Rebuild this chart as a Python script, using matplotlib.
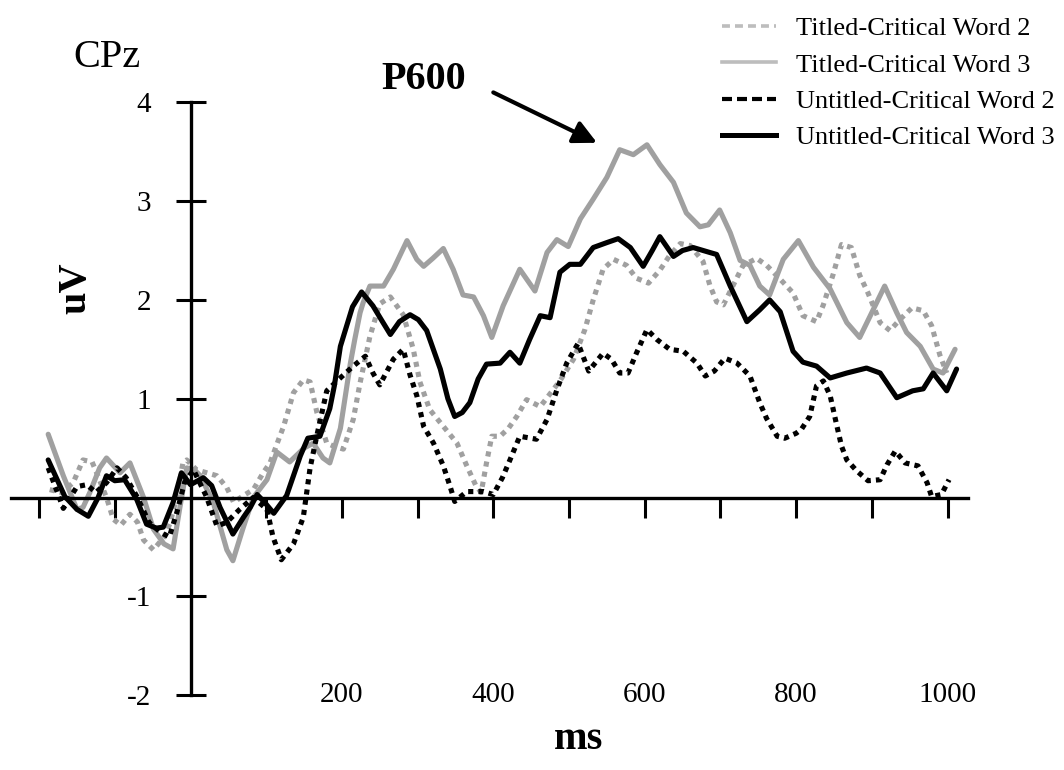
import matplotlib
matplotlib.use('Agg')
import matplotlib.pyplot as plt
from matplotlib.lines import Line2D

plt.rcParams['font.family'] = ['Liberation Serif', 'DejaVu Serif']

# ---------------- data (ms, uV) ----------------
ut3_ms = [-188, -166, -150, -135, -122, -111, -100, -87, -71, -58, -45, -36, -23, -12, 0, 17, 28, 39,
          56, 70, 79, 88, 98, 110, 127, 145, 155, 171, 184, 190, 198, 206, 214, 226, 241, 252, 264,
          276, 290, 301, 312, 330, 340, 349, 359, 369, 380, 391, 409, 422, 435, 448, 462, 475, 488,
          501, 515, 532, 550, 565, 581, 598, 610, 620, 638, 650, 664, 686, 695, 713, 735, 752, 765,
          779, 796, 809, 827, 845, 867, 893, 911, 933, 954, 968, 981, 999, 1012]
ut3_uv = [0.38, 0.01, -0.12, -0.19, 0.00, 0.22, 0.17, 0.18, -0.02, -0.27, -0.31, -0.30, -0.05, 0.25,
          0.13, 0.20, 0.12, -0.10, -0.37, -0.20, -0.10, 0.03, -0.05, -0.16, 0.02, 0.42, 0.60, 0.62,
          0.90, 1.13, 1.53, 1.73, 1.93, 2.08, 1.94, 1.80, 1.65, 1.78, 1.85, 1.80, 1.69, 1.30, 1.00,
          0.82, 0.86, 0.96, 1.20, 1.35, 1.36, 1.47, 1.36, 1.60, 1.84, 1.82, 2.28, 2.36, 2.36, 2.53,
          2.58, 2.62, 2.53, 2.34, 2.50, 2.64, 2.44, 2.50, 2.53, 2.48, 2.46, 2.14, 1.78, 1.90, 2.00,
          1.88, 1.48, 1.37, 1.33, 1.21, 1.26, 1.31, 1.26, 1.01, 1.08, 1.10, 1.26, 1.08, 1.30]

tt3_ms = [-188, -168, -159, -150, -142, -133, -120, -111, -93, -80, -62, -49, -35, -23, -14, -5, 5, 13,
          30, 48, 56, 69, 83, 101, 114, 131, 150, 162, 175, 184, 198, 211, 217, 224, 228, 237, 255,
          268, 286, 299, 308, 320, 334, 347, 360, 374, 387, 398, 413, 435, 455, 471, 484, 499, 515,
          532, 550, 567, 585, 603, 620, 638, 655, 673, 684, 699, 713, 726, 739, 752, 765, 783, 803,
          823, 845, 867, 884, 898, 917, 933, 946, 964, 981, 994, 1010]
tt3_uv = [0.64, 0.22, 0.05, -0.12, -0.10, 0.05, 0.30, 0.40, 0.25, 0.35, 0.00, -0.32, -0.47, -0.52,
          -0.10, 0.30, 0.28, 0.22, -0.05, -0.53, -0.64, -0.32, 0.00, 0.18, 0.46, 0.36, 0.50, 0.55,
          0.40, 0.35, 0.70, 1.35, 1.60, 1.87, 1.97, 2.14, 2.14, 2.31, 2.60, 2.41, 2.34, 2.42, 2.52,
          2.31, 2.05, 2.03, 1.84, 1.62, 1.94, 2.31, 2.09, 2.48, 2.61, 2.54, 2.82, 3.02, 3.24, 3.52,
          3.47, 3.57, 3.37, 3.19, 2.88, 2.74, 2.76, 2.91, 2.68, 2.40, 2.35, 2.14, 2.05, 2.41, 2.60,
          2.33, 2.11, 1.77, 1.62, 1.84, 2.14, 1.87, 1.67, 1.53, 1.30, 1.26, 1.50]

tt2_ms = [-186, -170, -155, -142, -130, -124, -111, -102, -92, -80, -70, -62, -49, -35, -27, -18, -10,
          -5, 8, 35, 48, 57, 70, 83, 96, 105, 118, 123, 136, 149, 158, 167, 180, 189, 202, 215, 224,
          237, 250, 264, 281, 294, 303, 316, 334, 352, 365, 377, 384, 391, 398, 409, 420, 431, 444,
          462, 475, 488, 506, 521, 532, 545, 559, 576, 589, 605, 620, 633, 647, 660, 677, 686, 695,
          704, 717, 730, 748, 761, 779, 796, 809, 827, 836, 849, 860, 873, 884, 895, 911, 924, 937,
          953, 968, 979, 990, 999]
tt2_uv = [0.08, 0.05, 0.15, 0.38, 0.36, 0.25, 0.00, -0.22, -0.28, -0.17, -0.25, -0.43, -0.53, -0.40,
          -0.26, 0.01, 0.35, 0.38, 0.28, 0.22, 0.10, -0.05, 0.02, 0.08, 0.25, 0.35, 0.62, 0.72, 1.06,
          1.19, 1.17, 0.86, 0.55, 0.52, 0.49, 0.79, 1.16, 1.63, 1.96, 2.03, 1.85, 1.51, 1.17, 0.89,
          0.72, 0.55, 0.32, 0.12, 0.05, 0.35, 0.62, 0.62, 0.70, 0.82, 0.99, 0.92, 1.05, 1.18, 1.40,
          1.70, 2.00, 2.31, 2.41, 2.35, 2.22, 2.17, 2.30, 2.45, 2.57, 2.55, 2.39, 2.15, 1.98, 1.95,
          2.15, 2.35, 2.42, 2.35, 2.21, 2.07, 1.84, 1.78, 1.95, 2.26, 2.56, 2.53, 2.25, 2.07, 1.77,
          1.69, 1.80, 1.92, 1.89, 1.74, 1.44, 1.26]

ut2_ms = [-188, -168, -150, -137, -125, -111, -97, -85, -70, -55, -40, -28, -18, -8, 4, 21, 35, 48, 65,
          83, 101, 109, 120, 136, 149, 158, 167, 180, 195, 215, 231, 241, 250, 268, 281, 290, 299,
          308, 321, 334, 343, 349, 365, 387, 400, 412, 422, 435, 457, 471, 484, 497, 512, 526, 545,
          556, 567, 578, 589, 603, 616, 633, 651, 669, 680, 692, 706, 722, 739, 752, 761, 775, 785,
          800, 807, 818, 827, 836, 845, 854, 860, 867, 880, 895, 911, 920, 931, 944, 961, 973, 979,
          992, 1002]
ut2_uv = [0.30, -0.11, 0.11, 0.13, 0.05, 0.15, 0.30, 0.20, 0.00, -0.25, -0.35, -0.40, -0.15, 0.15,
          0.28, 0.01, -0.29, -0.25, -0.12, 0.00, -0.12, -0.40, -0.63, -0.47, -0.20, 0.30, 0.63, 1.08,
          1.19, 1.33, 1.43, 1.26, 1.14, 1.40, 1.50, 1.24, 1.03, 0.72, 0.55, 0.32, 0.11, -0.04, 0.06,
          0.06, 0.03, 0.20, 0.38, 0.62, 0.59, 0.79, 1.09, 1.36, 1.56, 1.28, 1.46, 1.40, 1.26, 1.26,
          1.46, 1.70, 1.60, 1.50, 1.48, 1.36, 1.23, 1.28, 1.41, 1.36, 1.23, 0.96, 0.80, 0.62, 0.60,
          0.65, 0.69, 0.82, 1.13, 1.18, 1.03, 0.72, 0.52, 0.38, 0.27, 0.17, 0.18, 0.33, 0.47, 0.35,
          0.32, 0.15, 0.01, 0.03, 0.18]

labels = ['Titled-Critical Word 2', 'Titled-Critical Word 3',
          'Untitled-Critical Word 2', 'Untitled-Critical Word 3']
x_ticks = [-200, -100, 100, 200, 300, 400, 500, 600, 700, 800, 900, 1000]
x_ticklabels = [200, 400, 600, 800, 1000]
y_ticks = [-2, -1, 1, 2, 3, 4]

# ---------------- figure ----------------
W, H = 1064, 770
fig = plt.figure(figsize=(W / 100, H / 100), dpi=100)
xlim = (-237, 1027)
ylim = (-2.5, 4.5)
x0, sx = 190.5, 0.757      # px of 0 ms, px per ms
y0, sy = 497.5, 98.8       # px of 0 uV, px per uV
lpx, rpx = x0 + sx * xlim[0], x0 + sx * xlim[1]
tpx, bpx = y0 - sy * ylim[1], y0 - sy * ylim[0]
ax = fig.add_axes([lpx / W, 1 - bpx / H, (rpx - lpx) / W, (bpx - tpx) / H])
ax.set_xlim(*xlim)
ax.set_ylim(*ylim)

GRAY = '#A0A0A0'
LW = 3.7
dot = (0, (1, 1))
ax.plot(tt2_ms, tt2_uv, color=GRAY, lw=LW, linestyle=dot, dash_capstyle='butt', zorder=3)
ax.plot(tt3_ms, tt3_uv, color=GRAY, lw=LW, solid_joinstyle='round', solid_capstyle='round', zorder=3)
ax.plot(ut2_ms, ut2_uv, color='black', lw=LW, linestyle=dot, dash_capstyle='butt', zorder=4)
ax.plot(ut3_ms, ut3_uv, color='black', lw=LW, solid_joinstyle='round', solid_capstyle='round', zorder=4)

# axes through origin
for s in ['top', 'right']:
    ax.spines[s].set_visible(False)
ax.spines['left'].set_position(('data', 0))
ax.spines['bottom'].set_position(('data', 0))
ax.spines['left'].set_bounds(-2, 4)
for s in ['left', 'bottom']:
    ax.spines[s].set_linewidth(2.4)
    ax.spines[s].set_zorder(5)

ax.set_yticks(y_ticks)
ax.set_yticklabels([str(v) for v in y_ticks])
ax.tick_params(axis='y', direction='inout', length=21, width=2.2, pad=18, labelsize=21)
ax.set_xticks(x_ticks)
ax.set_xticklabels([''] * len(x_ticks))
ax.tick_params(axis='x', direction='out', length=14.5, width=2.2)
for v in x_ticklabels:
    ax.text(v, -2.0, str(v), ha='center', va='center', fontsize=21)

ax.text(512, -2.45, 'ms', ha='center', va='center', fontsize=29, fontweight='bold')
ax.text(-151, 2.12, 'uV', ha='center', va='center', fontsize=29, fontweight='bold', rotation=90)
ax.text(-110, 4.45, 'CPz', ha='center', va='center', fontsize=29, clip_on=False)

ax.text(308, 4.23, 'P600', ha='center', va='center', fontsize=29, fontweight='bold', clip_on=False)
ax.annotate('', xy=(537, 3.59), xytext=(400, 4.10),
            arrowprops=dict(arrowstyle='-|>,head_length=0.7,head_width=0.35', lw=3,
                            color='black', shrinkA=0, shrinkB=0, mutation_scale=20))

handles = [
    Line2D([], [], color='#BDBDBD', lw=2.6, linestyle=(0, (2.2, 1.4))),
    Line2D([], [], color='#BDBDBD', lw=2.6),
    Line2D([], [], color='black', lw=3.0, linestyle=(0, (2.4, 1.2))),
    Line2D([], [], color='black', lw=3.6),
]
fig.legend(handles, labels, loc='upper left', bbox_to_anchor=(722 / W, 1 - 17 / H),
           frameon=False, fontsize=19, handlelength=2.05, handletextpad=0.76,
           borderpad=0, borderaxespad=0, labelspacing=0.48)

fig.savefig('out.png', dpi=100)
